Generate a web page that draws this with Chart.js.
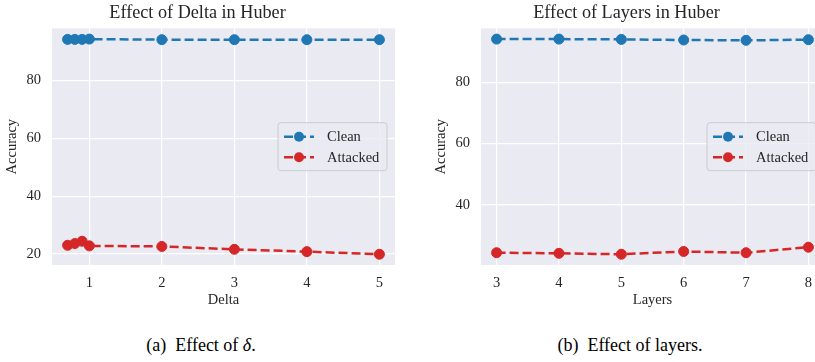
<!DOCTYPE html>
<html>
<head>
<meta charset="utf-8">
<script src="https://cdn.jsdelivr.net/npm/chart.js@4.4.1/dist/chart.umd.min.js"></script>
<style>
  html, body { margin: 0; padding: 0; background: #fff; overflow: hidden; }
  body { width: 815px; height: 362px; position: relative; }
  canvas { position: absolute; top: 0; }
  #deltaChart { left: 0; }
  #layerChart { left: 410px; }
  .caption {
    position: absolute; top: 333px; height: 24px; line-height: 24px;
    text-align: center; font-family: "Liberation Serif", serif; font-size: 18px; color: #000;
  }
</style>
</head>
<body>
<canvas id="deltaChart" width="410" height="312"></canvas>
<canvas id="layerChart" width="430" height="312"></canvas>
<div class="caption" style="left:0;width:402px;">(a)&nbsp; Effect of <i>δ</i>.</div>
<div class="caption" style="left:410px;width:440px;">(b)&nbsp; Effect of layers.</div>

<script>
// delta sweep
var deltaValues = [0.7, 0.8, 0.9, 1, 2, 3, 4, 5];
var deltaClean = [94.3, 94.3, 94.3, 94.4, 94.2, 94.2, 94.2, 94.2];
var deltaAttacked = [23.0, 23.6, 24.4, 22.8, 22.6, 21.6, 20.8, 19.9];
var deltaTicksX = [1, 2, 3, 4, 5];
var deltaTicksY = [20, 40, 60, 80];

// layer sweep
var layerValues = [3, 4, 5, 6, 7, 8];
var layerClean = [94.2, 94.2, 94.1, 93.9, 93.8, 94.0];
var layerAttacked = [24.3, 24.1, 23.8, 24.7, 24.3, 26.1];
var layerTicksX = [3, 4, 5, 6, 7, 8];
var layerTicksY = [40, 60, 80];

var seriesNames = ['Clean', 'Attacked'];
var seriesColors = ['#1f77b4', '#d62728'];

var SERIF = '"Liberation Serif", "Times New Roman", serif';
var TEXT = '#262626';

//pad an axis range by 5% on each side like matplotlib autoscale
function padRange(arr) {
  var lo = Math.min.apply(null, arr);
  var hi = Math.max.apply(null, arr);
  var m = (hi - lo) * 0.05;
  return [lo - m, hi + m];
}

function toPoints(xs, ys) {
  return xs.map(function(x, i) { return {x: x, y: ys[i]}; });
}

function makeDataset(i, xs, ys) {
  return {
    label: seriesNames[i],
    data: toPoints(xs, ys),
    borderColor: seriesColors[i],
    backgroundColor: seriesColors[i],
    borderWidth: 2.5,
    borderDash: [9, 4],
    pointRadius: 5,
    pointHoverRadius: 5,
    pointBorderWidth: 1,
    tension: 0
  };
}

//grey plot background
var plotBackground = {
  id: 'plotBackground',
  beforeDraw: function(chart) {
    var a = chart.chartArea, c = chart.ctx;
    c.save();
    c.fillStyle = '#eaeaf2';
    c.fillRect(a.left, a.top, a.right - a.left, a.bottom - a.top);
    c.restore();
  }
};

//legend box inside the plot, center right
var innerLegend = {
  id: 'innerLegend',
  afterDraw: function(chart) {
    var a = chart.chartArea, c = chart.ctx;
    var w = 109, h = 48;
    var x0 = a.right - 8 - w;
    var y0 = (a.top + a.bottom) / 2 - h / 2;
    c.save();
    c.beginPath();
    c.roundRect(x0, y0, w, h, 3);
    c.fillStyle = 'rgba(234,234,242,0.8)';
    c.fill();
    c.lineWidth = 1;
    c.strokeStyle = '#cccccc';
    c.stroke();
    chart.data.datasets.forEach(function(ds, i) {
      var cy = y0 + 14 + i * 20.5;
      c.strokeStyle = ds.borderColor;
      c.lineWidth = 2.5;
      c.setLineDash([9, 4]);
      c.beginPath();
      c.moveTo(x0 + 6, cy);
      c.lineTo(x0 + 36, cy);
      c.stroke();
      c.setLineDash([]);
      c.fillStyle = ds.backgroundColor;
      c.beginPath();
      c.arc(x0 + 21, cy, 5, 0, Math.PI * 2);
      c.fill();
      c.fillStyle = TEXT;
      c.font = '14.5px ' + SERIF;
      c.textBaseline = 'middle';
      c.textAlign = 'left';
      c.fillText(ds.label, x0 + 49, cy + 1);
    });
    c.restore();
  }
};

function makeChart(el, opts) {
  var yr = padRange(opts.clean.concat(opts.attacked));
  return new Chart(el, {
    type: 'line',
    data: {
      datasets: [makeDataset(0, opts.xs, opts.clean), makeDataset(1, opts.xs, opts.attacked)]
    },
    plugins: [plotBackground, innerLegend],
    options: {
      responsive: false,
      animation: false,
      devicePixelRatio: 1,
      layout: { padding: opts.padding },
      plugins: {
        legend: { display: false },
        tooltip: { enabled: false },
        title: {
          display: true,
          text: opts.title,
          color: TEXT,
          font: { family: SERIF, size: 18.2, weight: 'normal', lineHeight: 1.2 },
          padding: { top: 2.5, bottom: 4 }
        }
      },
      scales: {
        x: {
          type: 'linear',
          min: opts.xRange[0],
          max: opts.xRange[1],
          afterBuildTicks: function(s) { s.ticks = opts.ticksX.map(function(v) { return {value: v}; }); },
          afterFit: function(s) { s.height = 47; },
          grid: { color: '#ffffff', lineWidth: 1.2, drawTicks: false },
          border: { display: false },
          ticks: { color: TEXT, padding: 9.6, maxRotation: 0, font: { family: SERIF, size: 14.5 } },
          title: {
            display: true, text: opts.xLabel, color: TEXT,
            font: { family: SERIF, size: 14.5, lineHeight: 1.2 },
            padding: { top: 0, bottom: 3.5 }
          }
        },
        y: {
          type: 'linear',
          min: yr[0],
          max: yr[1],
          afterBuildTicks: function(s) { s.ticks = opts.ticksY.map(function(v) { return {value: v}; }); },
          afterFit: function(s) { s.width = 52; },
          grid: { color: '#ffffff', lineWidth: 1.2, drawTicks: false },
          border: { display: false },
          ticks: { color: TEXT, padding: 11, font: { family: SERIF, size: 14.5 } },
          title: {
            display: true, text: 'Accuracy', color: TEXT,
            font: { family: SERIF, size: 14.5, lineHeight: 1.2 },
            padding: { top: 3, bottom: 0 }
          }
        }
      }
    }
  });
}

var deltaChart = makeChart(document.getElementById('deltaChart'), {
  title: 'Effect of Delta in Huber',
  xLabel: 'Delta',
  xs: deltaValues, clean: deltaClean, attacked: deltaAttacked,
  xRange: padRange(deltaValues),
  ticksX: deltaTicksX, ticksY: deltaTicksY,
  padding: { left: 0, right: 15, top: 0, bottom: 0 }
});

var layerChart = makeChart(document.getElementById('layerChart'), {
  title: 'Effect of Layers in Huber',
  xLabel: 'Layers',
  xs: layerValues, clean: layerClean, attacked: layerAttacked,
  xRange: padRange(layerValues),
  ticksX: layerTicksX, ticksY: layerTicksY,
  padding: { left: 19, right: 16, top: 0, bottom: 0 }
});
</script>
</body>
</html>
